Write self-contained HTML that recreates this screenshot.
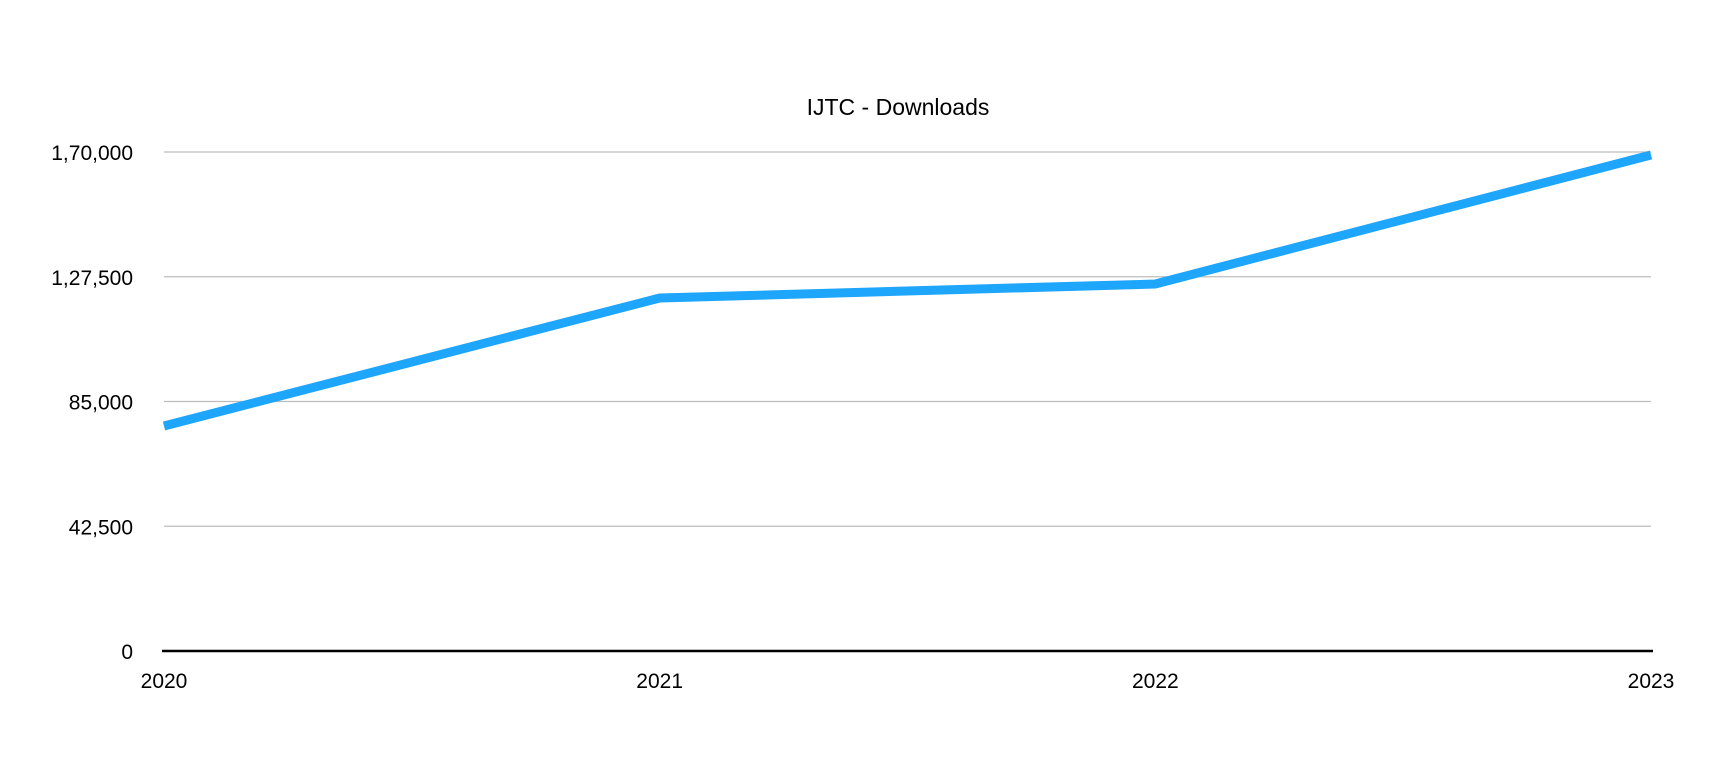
<!DOCTYPE html>
<html><head><meta charset="utf-8"><style>
html,body{margin:0;padding:0;background:#fff;}
svg{display:block;font-family:"Liberation Sans",Arial,sans-serif;}
</style></head><body>
<svg id="chart" width="1717" height="771" viewBox="0 0 1717 771" xmlns="http://www.w3.org/2000/svg">
<text x="898" y="115" font-size="23" text-anchor="middle" fill="#000">IJTC - Downloads</text>
<g id="grid"></g><g id="yt"></g><g id="xt"></g><g id="series"></g>
</svg>
<script>
const categories = ["2020","2021","2022","2023"];
const downloads = [76650, 120260, 125030, 168970];
const yTicks = [0, 42500, 85000, 127500, 170000];
const yTickLabels = ["0","42,500","85,000","1,27,500","1,70,000"];
const NS="http://www.w3.org/2000/svg";
const x0=164,x1=1651,yBase=651,yTop=152,yMax=170000;
function xs(i){return x0+(x1-x0)*i/(categories.length-1);}
function ys(v){return yBase-(yBase-yTop)*v/yMax;}
function mk(t,a,p){const e=document.createElementNS(NS,t);for(const k in a)e.setAttribute(k,a[k]);p.appendChild(e);return e;}
const grid=document.getElementById('grid'),yt=document.getElementById('yt'),xt=document.getElementById('xt'),ser=document.getElementById('series');
yTicks.forEach((v,i)=>{
  const y=ys(v);
  if(v!==0){const l=mk('line',{x1:x0,x2:x1,y1:y,y2:y,stroke:'#bdbdbd','stroke-width':1.2},grid);
  
  }
  const t=mk('text',{x:133,y:y+8,'font-size':21,'text-anchor':'end',fill:'#000'},yt);
  t.textContent=yTickLabels[i];
  
  
});
const ax=mk('line',{x1:x0-2,x2:x1+2,y1:yBase,y2:yBase,stroke:'#000','stroke-width':2.5},grid);


categories.forEach((c,i)=>{
  const t=mk('text',{x:xs(i),y:688,'font-size':21,'text-anchor':'middle',fill:'#000'},xt);
  t.textContent=c;
  
  
});
const pts=downloads.map((v,i)=>xs(i)+','+ys(v)).join(' ');
const pl=mk('polyline',{points:pts,fill:'none',stroke:'#1ea5fc','stroke-width':9,'stroke-linejoin':'round'},ser);


</script>
</body></html>
